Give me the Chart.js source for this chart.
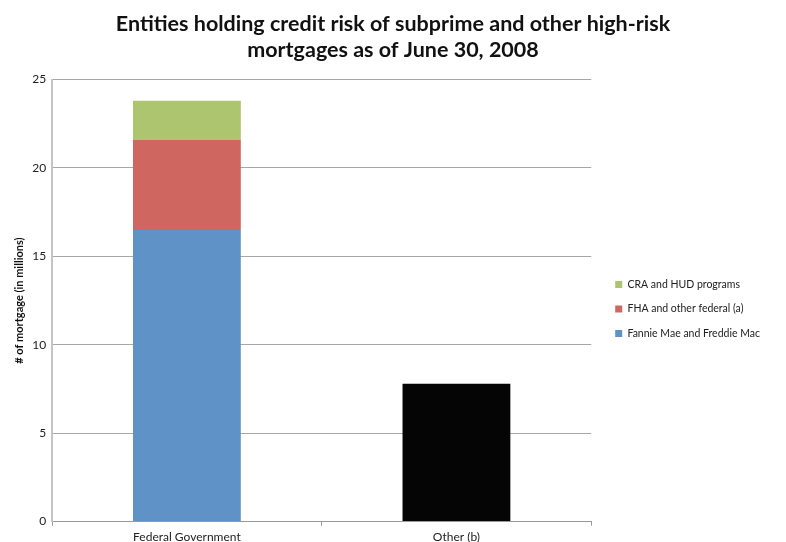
<!DOCTYPE html>
<html>
<head>
<meta charset="utf-8">
<script src="https://cdn.jsdelivr.net/npm/chart.js@4"></script>
<style>
  html, body { margin: 0; padding: 0; background: #fff; }
  #wrap { width: 786px; height: 542px; }
</style>
</head>
<body>
<div id="wrap"><canvas id="grafico"></canvas></div>
<script>
const categorias = ["Federal Government", "Other (b)"];
const fannieFreddie = [16.5, null];
const fhaFederal = [5.1, null];
const craHud = [2.2, null];
const outros = [null, 7.8];
const ticksY = [0, 5, 10, 15, 20, 25];
const tituloLinhas = ["Entities holding credit risk of subprime and other high-risk", "mortgages as of June 30, 2008"];

const fonte = "Lato, 'Open Sans', sans-serif";

// legenda mais larga, itens afastados do grafico e um pouco mais abaixo
const legendaPlugin = {
    id: "legendaOffset",
    beforeLayout(chart) {
        const lg = chart.legend;
        if (!lg || lg._larguraExtra) return;
        const fitOriginal = lg.fit;
        lg.fit = function () {
            fitOriginal.call(this);
            this.width += 26;
        };
        lg._larguraExtra = true;
    },
    afterLayout(chart) {
        const lg = chart.legend;
        if (!lg) return;
        lg.left += 10;
        lg.right += 10;
        lg.top += 35;
        lg.bottom += 35;
    },
};

new Chart(document.getElementById("grafico").getContext("2d"), {
    type: "bar",
    data: {
        labels: categorias,
        datasets: [
            { label: "Fannie Mae and Freddie Mac", data: fannieFreddie, backgroundColor: "#5f93c7", stack: "s" },
            { label: "FHA and other federal (a)", data: fhaFederal, backgroundColor: "#cf6660", stack: "s" },
            { label: "CRA and HUD programs", data: craHud, backgroundColor: "#adc56e", stack: "s" },
            { label: "Other", data: outros, backgroundColor: "#050505", stack: "s" },
        ],
    },
    plugins: [legendaPlugin],
    options: {
        responsive: true,
        maintainAspectRatio: false,
        animation: false,
        layout: { padding: { left: 0, right: 0, top: 0, bottom: -6 } },
        datasets: { bar: { categoryPercentage: 0.4, barPercentage: 1 } },
        scales: {
            x: {
                stacked: true,
                grid: { offset: true, drawOnChartArea: false, drawTicks: true, tickLength: 4, color: "#999" },
                border: { color: "#999", width: 1 },
                ticks: { color: "#222", font: { family: fonte, size: 12 }, padding: 4 },
            },
            y: {
                stacked: true,
                min: 0,
                max: 25,
                afterBuildTicks: (axis) => { axis.ticks = ticksY.map((v) => ({ value: v })); },
                grid: { color: "#a6a6a6", drawTicks: false },
                border: { color: "#c4c4c4", width: 2 },
                ticks: { color: "#222", font: { family: fonte, size: 12 }, padding: 6 },
                title: {
                    display: true,
                    text: "# of mortgage (in millions)",
                    color: "#111",
                    font: { family: fonte, size: 11, weight: "bold" },
                    padding: { top: 13, bottom: 0 },
                },
            },
        },
        plugins: {
            title: {
                display: true,
                text: tituloLinhas,
                color: "#111",
                font: { family: fonte, size: 21.5, weight: "bold" },
                lineHeight: 1.3,
                padding: { top: 11, bottom: 17 },
            },
            legend: {
                position: "right",
                reverse: true,
                labels: {
                    filter: (item) => item.text !== "Other",
                    boxWidth: 7,
                    boxHeight: 7,
                    padding: 14,
                    color: "#222",
                    font: { family: fonte, size: 10.5 },
                },
            },
            tooltip: { enabled: false },
        },
    },
});
</script>
</body>
</html>
